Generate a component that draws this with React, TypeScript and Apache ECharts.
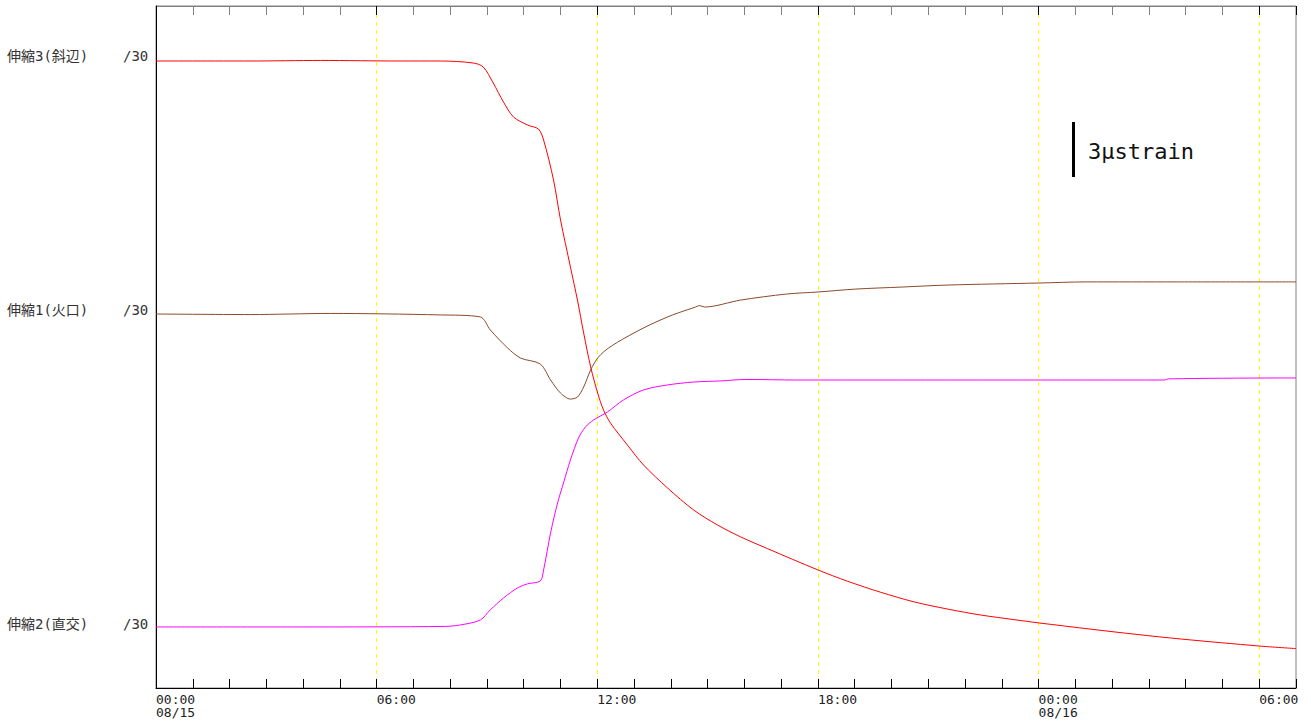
import React, { useEffect, useRef } from "react";
import * as echarts from "echarts";

// ---- data (time in hours from 08/15 00:00, change in μstrain from each trace's start) ----
const RED_T = [0, 2.56, 4.47, 6.64, 7.73, 8.63, 8.9, 9.17, 9.45, 9.72, 10.1, 10.4, 10.54, 10.81, 11.0, 11.27, 11.46, 11.63, 11.82, 12.01, 12.17, 12.36, 12.82, 13.26, 13.91, 14.62, 15.27, 15.9, 16.63, 18.0, 18.81, 19.71, 20.61, 21.54, 22.43, 23.33, 24.01, 25.46, 26.68, 27.88, 30.0, 31.0];
const RED_V = [0, 0, 0.03, 0, 0, -0.11, -0.33, -1.2, -2.24, -3.05, -3.49, -3.71, -4.31, -6.49, -8.67, -11.24, -13.04, -14.84, -16.69, -18.11, -19.04, -19.75, -20.95, -22.04, -23.29, -24.49, -25.31, -25.96, -26.6, -27.76, -28.38, -28.98, -29.5, -29.9, -30.22, -30.47, -30.65, -31.0, -31.28, -31.53, -31.91, -32.05];

const BROWN_T = [0, 2.56, 4.74, 7.73, 8.82, 9.09, 9.56, 9.91, 10.45, 10.73, 11.0, 11.27, 11.46, 11.63, 11.82, 12.03, 12.31, 12.8, 13.42, 14.05, 14.67, 14.78, 14.92, 15.9, 17.15, 18.0, 19.03, 20.28, 21.54, 24.01, 25.29, 27.77, 31.0];
const BROWN_V = [0, -0.03, 0.03, -0.05, -0.16, -0.87, -1.85, -2.4, -2.73, -3.6, -4.31, -4.64, -4.53, -3.98, -3.05, -2.35, -1.85, -1.25, -0.6, -0.05, 0.38, 0.46, 0.38, 0.76, 1.09, 1.2, 1.36, 1.47, 1.58, 1.69, 1.75, 1.75, 1.75];

const MAG_T = [0, 3.92, 7.87, 8.28, 8.82, 9.09, 9.45, 9.83, 10.1, 10.45, 10.54, 10.73, 10.92, 11.08, 11.27, 11.49, 11.68, 11.9, 12.28, 12.71, 13.26, 13.91, 14.62, 15.36, 16.04, 17.42, 22.98, 27.42, 27.53, 30.52, 31.0];
const MAG_V = [0, 0, 0.03, 0.11, 0.38, 0.93, 1.58, 2.13, 2.35, 2.51, 3.11, 5.13, 6.76, 7.85, 9.11, 10.31, 10.91, 11.29, 11.73, 12.38, 12.93, 13.2, 13.36, 13.42, 13.5, 13.47, 13.47, 13.47, 13.53, 13.58, 13.58];

const SERIES_NAMES = ["伸縮3(斜辺)", "伸縮1(火口)", "伸縮2(直交)"];
const SERIES_SCALE = ["/30", "/30", "/30"];

const TICK_HOURS = [0, 6, 12, 18, 24, 30];
const TICK_TIMES = ["00:00", "06:00", "12:00", "18:00", "00:00", "06:00"];
const TICK_DATES = ["08/15", "", "", "", "08/16", ""];

const SCALE_TEXT = "3μstrain";

// ---- layout / style constants ----
const W = 1311;
const H = 728;
const Y_MAX = 37.2; // μstrain spanned by the plot height
const BASES = [34.2, 20.4, 3.33]; // trace offsets (μstrain on the display axis)
const COLORS = ["#ff0000", "#8b4a2b", "#ff00ff"];
const LABEL_Y = [57, 311, 625];
const MONO = "'DejaVu Sans Mono', 'Noto Sans CJK JP', monospace";

function build(t: number[], v: number[], base: number) {
  return t.map((x, i) => [x, base + v[i]]);
}

export default function App() {
  const ref = useRef<HTMLDivElement>(null);
  useEffect(() => {
    document.body.style.margin = "0";
    if (!ref.current) return;
    const chart = echarts.init(ref.current, undefined, { renderer: "svg" });
    const tickFmt = (val: number) => {
      const i = TICK_HOURS.indexOf(Math.round(val * 1000) / 1000);
      if (i < 0) return "";
      return TICK_DATES[i] ? TICK_TIMES[i] + "\n" + TICK_DATES[i] : TICK_TIMES[i];
    };
    const datasets = [
      build(RED_T, RED_V, BASES[0]),
      build(BROWN_T, BROWN_V, BASES[1]),
      build(MAG_T, MAG_V, BASES[2]),
    ];
    const graphics: any[] = [];
    SERIES_NAMES.forEach((name, i) => {
      graphics.push({
        type: "text",
        left: 7,
        top: LABEL_Y[i] - 8,
        style: { text: name, font: `14px ${MONO}`, fill: "#333" },
      });
      graphics.push({
        type: "text",
        left: 123,
        top: LABEL_Y[i] - 8,
        style: { text: SERIES_SCALE[i], font: `14px ${MONO}`, fill: "#333" },
      });
    });
    graphics.push({
      type: "line",
      shape: { x1: 1073.5, y1: 122, x2: 1073.5, y2: 177 },
      style: { stroke: "#000", lineWidth: 3 },
    });
    graphics.push({
      type: "text",
      left: 1088,
      top: 140,
      style: { text: SCALE_TEXT, font: `22px ${MONO}`, fill: "#111" },
    });

    chart.setOption({
      animation: false,
      backgroundColor: "#fff",
      grid: {
        left: 156,
        right: 15,
        top: 6,
        bottom: 40,
        show: true,
        borderColor: "#808080",
        borderWidth: 1,
        backgroundColor: "#fff",
      },
      xAxis: [
        {
          type: "value",
          position: "bottom",
          min: 0,
          max: 31,
          interval: 1,
          axisLine: { show: true, lineStyle: { color: "#000", width: 1 } },
          axisTick: { show: true, inside: true, length: 9, lineStyle: { color: "#000" } },
          axisLabel: { show: false },
          splitLine: { show: false },
        },
        {
          type: "value",
          position: "bottom",
          min: 0,
          max: 31,
          interval: 6,
          axisLine: { show: false },
          axisTick: { show: false },
          axisLabel: {
            show: true,
            formatter: tickFmt,
            align: "left",
            margin: 5,
            fontFamily: MONO,
            fontSize: 13,
            lineHeight: 13,
            color: "#222",
          },
          splitLine: {
            show: true,
            showMinLine: false,
            showMaxLine: false,
            lineStyle: { color: "#ffff00", type: [4, 4], width: 1 },
          },
        },
        {
          type: "value",
          position: "top",
          min: 0,
          max: 31,
          interval: 1,
          axisLine: { show: true, lineStyle: { color: "#808080", width: 1 } },
          axisTick: { show: true, inside: true, length: 9, lineStyle: { color: "#808080" } },
          axisLabel: { show: false },
          splitLine: { show: false },
        },
        {
          type: "value",
          position: "top",
          min: 0,
          max: 31,
          interval: 6,
          axisLine: { show: false },
          axisTick: { show: true, inside: true, length: 9, lineStyle: { color: "#000" } },
          axisLabel: { show: false },
          splitLine: { show: false },
        },
      ],
      yAxis: {
        type: "value",
        min: 0,
        max: Y_MAX,
        axisLine: { show: true, lineStyle: { color: "#000", width: 1 } },
        axisTick: { show: false },
        axisLabel: { show: false },
        splitLine: { show: false },
      },
      series: datasets.map((d, i) => ({
        type: "line",
        name: SERIES_NAMES[i],
        xAxisIndex: 0,
        data: d,
        showSymbol: false,
        smooth: 0.3,
        lineStyle: { color: COLORS[i], width: 1 },
        itemStyle: { color: COLORS[i] },
        silent: true,
      })),
      graphic: graphics,
    });
    return () => chart.dispose();
  }, []);
  return (
    <div
      ref={ref}
      style={{ position: "fixed", left: 0, top: 0, width: W, height: H, background: "#fff" }}
    />
  );
}
